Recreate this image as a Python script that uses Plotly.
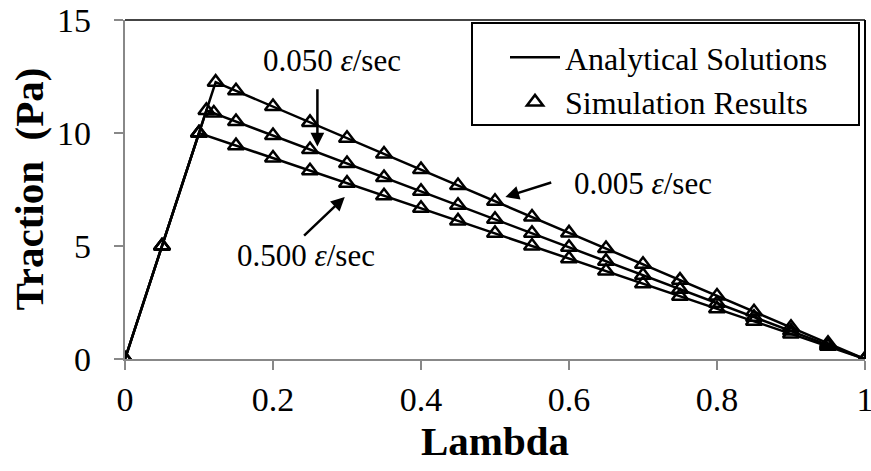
import plotly.graph_objects as go

# Analytical solutions (bilinear traction-separation)
ana_lambda_005 = [0, 0.1225, 1.0]
ana_trac_005 = [0, 12.25, 0]
ana_lambda_050 = [0, 0.11, 1.0]
ana_trac_050 = [0, 11.0, 0]
ana_lambda_500 = [0, 0.10, 1.0]
ana_trac_500 = [0, 10.0, 0]

# Simulation results
sim_lambda_005 = [0, 0.05, 0.10, 0.1225, 0.15, 0.20, 0.25, 0.30, 0.35, 0.40, 0.45, 0.50,
                  0.55, 0.60, 0.65, 0.70, 0.75, 0.80, 0.85, 0.90, 0.95, 1.00]
sim_trac_005 = [0, 5.0, 10.0, 12.25, 11.87, 11.17, 10.47, 9.77, 9.07, 8.38, 7.68, 6.98,
                6.28, 5.58, 4.89, 4.19, 3.49, 2.79, 2.09, 1.40, 0.70, 0.0]
sim_lambda_050 = [0, 0.05, 0.10, 0.11, 0.12, 0.15, 0.20, 0.25, 0.30, 0.35, 0.40, 0.45, 0.50,
                  0.55, 0.60, 0.65, 0.70, 0.75, 0.80, 0.85, 0.90, 0.95, 1.00]
sim_trac_050 = [0, 5.0, 10.0, 11.0, 10.88, 10.51, 9.89, 9.27, 8.65, 8.03, 7.42, 6.80, 6.18,
                5.56, 4.94, 4.33, 3.71, 3.09, 2.47, 1.85, 1.24, 0.62, 0.0]
sim_lambda_500 = [0, 0.05, 0.10, 0.15, 0.20, 0.25, 0.30, 0.35, 0.40, 0.45, 0.50,
                  0.55, 0.60, 0.65, 0.70, 0.75, 0.80, 0.85, 0.90, 0.95, 1.00]
sim_trac_500 = [0, 5.0, 10.0, 9.44, 8.89, 8.33, 7.78, 7.22, 6.67, 6.11, 5.56,
                5.00, 4.44, 3.89, 3.33, 2.78, 2.22, 1.67, 1.11, 0.56, 0.0]

x_ticks = [0, 0.2, 0.4, 0.6, 0.8, 1]
x_tick_labels = ["0", "0.2", "0.4", "0.6", "0.8", "1"]
y_ticks = [0, 5, 10, 15]
y_tick_labels = ["0", "5", "10", "15"]

FONT = "Liberation Serif, Times New Roman, serif"

fig = go.Figure()
ana = [(ana_lambda_005, ana_trac_005), (ana_lambda_050, ana_trac_050), (ana_lambda_500, ana_trac_500)]
for i, (lx, ly) in enumerate(ana):
    fig.add_trace(go.Scatter(x=lx, y=ly, mode="lines", line=dict(color="black", width=2.5),
                             name="Analytical Solutions", showlegend=(i == 0),
                             legendgroup="ana"))
sim = [(sim_lambda_005, sim_trac_005), (sim_lambda_050, sim_trac_050), (sim_lambda_500, sim_trac_500)]
for i, (sx, sy) in enumerate(sim):
    fig.add_trace(go.Scatter(x=sx, y=sy, mode="markers",
                             marker=dict(symbol="triangle-up-open", size=14, color="black",
                                         line=dict(color="black", width=2.5)),
                             name="Simulation Results", showlegend=(i == 0),
                             legendgroup="sim"))

label_font = dict(family=FONT, size=31, color="black")
arrow_kw = dict(showarrow=True, arrowhead=2, arrowsize=1.1, arrowwidth=2.5, arrowcolor="black",
                axref="x", ayref="y", text="")
# arrows
fig.add_annotation(x=0.26, y=9.4, ax=0.26, ay=12.0, **arrow_kw)
fig.add_annotation(x=0.514, y=7.17, ax=0.578, ay=7.83, **arrow_kw)
fig.add_annotation(x=0.297, y=7.17, ax=0.24, ay=5.4, **arrow_kw)
# labels
fig.add_annotation(x=0.28, y=13.2, text="0.050 <i>ε</i>/sec", showarrow=False, font=label_font)
fig.add_annotation(x=0.70, y=7.75, text="0.005 <i>ε</i>/sec", showarrow=False, font=label_font)
fig.add_annotation(x=0.245, y=4.6, text="0.500 <i>ε</i>/sec", showarrow=False, font=label_font)

# y tick labels (placed further from the axis, as in the reference)
for v, t in zip(y_ticks, y_tick_labels):
    fig.add_annotation(x=0, y=v, xref="paper", yref="y", text=t, showarrow=False,
                       xanchor="right", yanchor="middle", xshift=-32,
                       font=dict(family=FONT, size=34, color="black"))
# y axis title
fig.add_annotation(x=0, y=0.5, xref="paper", yref="paper", text="<b>Traction  (Pa)</b>",
                   textangle=-90, showarrow=False, xanchor="center", yanchor="middle",
                   xshift=-97, font=dict(family=FONT, size=41, color="black"))

# top & right border lines
fig.add_shape(type="line", xref="paper", yref="paper", x0=0, y0=1, x1=1, y1=1,
              line=dict(color="#444444", width=2))
fig.add_shape(type="line", xref="paper", yref="paper", x0=1, y0=0, x1=1, y1=1,
              line=dict(color="black", width=2))
# legend frame
fig.add_shape(type="rect", xref="paper", yref="paper",
              x0=(472 - 125) / 740, x1=(859 - 125) / 740,
              y0=(359 - 125) / 339, y1=(359 - 23) / 339,
              line=dict(color="black", width=2), fillcolor="white", layer="below")

fig.update_layout(
    width=871, height=471,
    margin=dict(l=125, r=6, t=20, b=112),
    paper_bgcolor="white", plot_bgcolor="rgba(0,0,0,0)",
    font=dict(family=FONT, color="black"),
    showlegend=True,
    legend=dict(x=(505 - 125) / 740, y=(359 - 30) / 339, xanchor="left", yanchor="top",
                bgcolor="rgba(0,0,0,0)", borderwidth=0,
                font=dict(family=FONT, size=32, color="black"),
                tracegroupgap=0, itemwidth=50),
    xaxis=dict(range=[0, 1], tickvals=x_ticks, ticktext=x_tick_labels,
               ticks="outside", ticklen=9, tickcolor="#888888", tickwidth=2,
               showline=True, linecolor="#888888", linewidth=2, showgrid=False, zeroline=False,
               ticklabeloverflow="allow", automargin=False,
               tickfont=dict(family=FONT, size=34, color="black"),
               title=dict(text="<b>Lambda</b>", font=dict(family=FONT, size=41, color="black"),
                          standoff=6)),
    yaxis=dict(range=[0, 15], tickvals=y_ticks, showticklabels=False,
               ticks="outside", ticklen=9, tickcolor="#888888", tickwidth=2,
               showline=True, linecolor="#888888", linewidth=2, showgrid=False, zeroline=False,
               automargin=False),
)

fig.write_html("out.html")
